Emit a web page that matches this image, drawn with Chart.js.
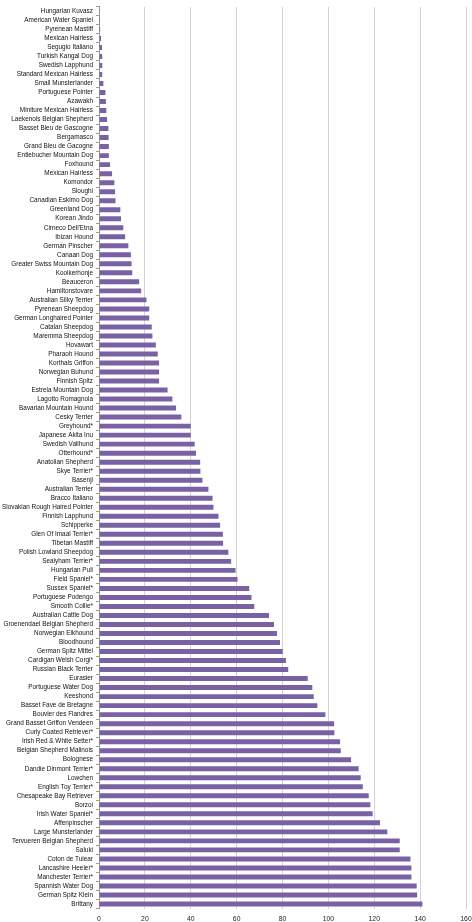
<!DOCTYPE html>
<html>
<head>
<meta charset="utf-8">
<script src="https://cdn.jsdelivr.net/npm/chart.js@4/dist/chart.umd.min.js"></script>
<style>
    html, body { margin: 0; padding: 0; background: #ffffff; }
    #wrap { position: relative; width: 472px; height: 922px; }
</style>
</head>
<body>
<div id="wrap"><canvas id="breedChart"></canvas></div>
<script>
// --- Breed data (top to bottom as in the picture) ---
const breeds = [
    'Hungarian Kuvasz', 'American Water Spaniel', 'Pyrenean Mastiff', 'Mexican Hairless',
    'Segugio Italiano', 'Turkish Kangal Dog', 'Swedish Lapphund', 'Standard Mexican Hairless',
    'Small Munsterlander', 'Portuguese Pointer', 'Azawakh', 'Miniture Mexican Hairless',
    'Laekenois Belgian Shepherd', 'Basset Bleu de Gascogne', 'Bergamasco', 'Grand Bleu de Gacogne',
    'Entlebucher Mountain Dog', 'Foxhound', 'Mexican Hairless', 'Komondor',
    'Sloughi', 'Canadian Eskimo Dog', 'Greenland Dog', 'Korean Jindo',
    'Cirneco Dell\'Etna', 'Ibizan Hound', 'German Pinscher', 'Canaan Dog',
    'Greater Swiss Mountain Dog', 'Kooikerhonje', 'Beauceron', 'Hamiltonstovare',
    'Australian Silky Terrier', 'Pyrenean Sheepdog', 'German Longhaired Pointer', 'Catalan Sheepdog',
    'Maremma Sheepdog', 'Hovawart', 'Pharaoh Hound', 'Korthals Griffon',
    'Norwegian Buhund', 'Finnish Spitz', 'Estrela Mountain Dog', 'Lagotto Romagnola',
    'Bavarian Mountain Hound', 'Cesky Terrier', 'Greyhound*', 'Japanese Akita Inu',
    'Swedish Vallhund', 'Otterhound*', 'Anatolian Shepherd', 'Skye Terrier*',
    'Basenji', 'Australian Terrier', 'Bracco Italiano', 'Slovakian Rough Haired Pointer',
    'Finnish Lapphund', 'Schipperke', 'Glen Of Imaal Terrier*', 'Tibetan Mastiff',
    'Polish Lowland Sheepdog', 'Sealyham Terrier*', 'Hungarian Puli', 'Field Spaniel*',
    'Sussex Spaniel*', 'Portuguese Podengo', 'Smooth Collie*', 'Australian Cattle Dog',
    'Groenendael Belgian Shepherd', 'Norwegian Elkhound', 'Bloodhound', 'German Spitz Mittel',
    'Cardigan Welsh Corgi*', 'Russian Black Terrier', 'Eurasier', 'Portuguese Water Dog',
    'Keeshond', 'Basset Fave de Bretagne', 'Bouvier des Flandres', 'Grand Basset Griffon Vendeen',
    'Curly Coated Retriever*', 'Irish Red & White Setter*', 'Belgian Shepherd Malinois', 'Bolognese',
    'Dandie Dinmont Terrier*', 'Lowchen', 'English Toy Terrier*', 'Chesapeake Bay Retriever',
    'Borzoi', 'Irish Water Spaniel*', 'Affenpinscher', 'Large Munsterlander',
    'Tervueren Belgian Shepherd', 'Saluki', 'Coton de Tulear', 'Lancashire Heeler*',
    'Manchester Terrier*', 'Spannish Water Dog', 'German Spitz Klein', 'Brittany'
];

const breedValues = [
    0.3, 0.4, 0.5, 0.9, 1.3, 1.4, 1.4, 1.4, 1.9, 2.8,
    3.0, 3.2, 3.5, 4.1, 4.2, 4.3, 4.3, 4.8, 5.7, 6.7,
    7.0, 7.2, 9.3, 9.6, 10.6, 11.4, 12.8, 13.9, 14.2, 14.5,
    17.5, 18.4, 20.7, 21.9, 21.9, 23.0, 23.3, 24.8, 25.6, 26.2,
    26.2, 26.2, 29.9, 32.0, 33.6, 35.9, 40.0, 40.0, 41.7, 42.3,
    44.1, 44.2, 45.1, 47.7, 49.5, 49.9, 52.1, 52.8, 54.0, 54.1,
    56.4, 57.6, 59.5, 60.4, 65.5, 66.5, 67.7, 74.1, 76.3, 77.6,
    78.9, 80.1, 81.5, 82.5, 91.0, 93.0, 93.6, 95.2, 98.7, 102.5,
    102.6, 105.1, 105.4, 109.9, 113.2, 114.1, 115.0, 117.6, 118.3, 119.3,
    122.5, 125.7, 131.1, 131.1, 135.8, 136.2, 136.2, 138.5, 138.7, 141.0
];

const axisMin = 0;
const axisMax = 160;
const axisStep = 20;

const ctx = document.getElementById('breedChart').getContext('2d');
const chart = new Chart(ctx, {
    type: 'bar',
    data: {
        labels: breeds,
        datasets: [{
            data: breedValues,
            backgroundColor: '#7a61a3',
            borderWidth: 0,
            barPercentage: 0.55,
            categoryPercentage: 1.0
        }]
    },
    options: {
        indexAxis: 'y',
        responsive: true,
        maintainAspectRatio: false,
        animation: false,
        layout: { padding: { top: 1.5, right: 6, left: 0, bottom: 0 } },
        scales: {
            x: {
                min: axisMin,
                max: axisMax,
                // keep the plot wide: the tick padding would otherwise eat the right edge
                afterFit: (s) => { s.height = 13.5; s.paddingLeft = 0; s.paddingRight = 0; },
                border: { display: false },
                grid: { color: '#d4d4d4', lineWidth: 1, drawTicks: false },
                ticks: {
                    stepSize: axisStep,
                    padding: 6.5,
                    color: '#222222',
                    font: { family: 'Liberation Sans', size: 6.8 }
                }
            },
            y: {
                afterFit: (s) => { s.width = 99; },
                border: { display: true, color: '#9a9a9a' },
                grid: { display: true, drawOnChartArea: false, tickLength: 3, color: '#9a9a9a' },
                ticks: {
                    autoSkip: false,
                    padding: 3,
                    color: '#111111',
                    font: { family: 'Liberation Sans', size: 6.4 }
                }
            }
        },
        plugins: {
            legend: { display: false },
            tooltip: { enabled: false }
        }
    }
});
</script>
</body>
</html>
